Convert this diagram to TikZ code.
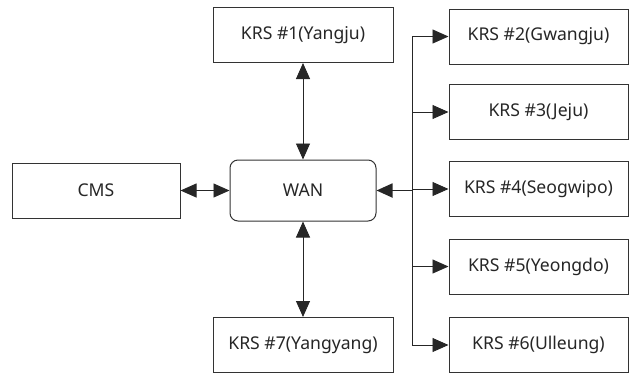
\documentclass[tikz,border=0pt]{standalone}
\usepackage{fontspec}
\setmainfont{Noto Sans}
\usetikzlibrary{arrows.meta}

\begin{document}
\begin{tikzpicture}[x=1pt,y=-1pt,
    box/.style={draw=black!80,line width=1pt,minimum width=180pt,minimum height=55pt,
      font=\fontsize{17.6}{21}\selectfont,text=black!85},
    tip/.tip={Triangle[length=16pt 0 0,width=14pt 0 0]},
    link/.style={tip-tip,line width=0.9pt,draw=black!85},
    feed/.style={-tip,line width=0.9pt,draw=black!85}]
  \useasboundingbox (0,0) rectangle (630,373);
  % stations around the network
  \node[box] (krs1) at (303,35) {KRS \#1(Yangju)};
  \node[box] (krs7) at (303,345) {KRS \#7(Yangyang)};
  \node[box,minimum width=168pt] (cms) at (96,190.5) {CMS};
  \node[box,minimum width=146pt,minimum height=61pt,rounded corners=8pt] (wan) at (303,190.5) {WAN};
  \node[box,minimum width=179pt] (krs2) at (538.5,36.5) {KRS \#2(Gwangju)};
  \node[box,minimum width=179pt] (krs3) at (538.5,112) {KRS \#3(Jeju)};
  \node[box,minimum width=179pt] (krs4) at (538.5,189) {KRS \#4(Seogwipo)};
  \node[box,minimum width=179pt] (krs5) at (538.5,266.5) {KRS \#5(Yeongdo)};
  \node[box,minimum width=179pt] (krs6) at (538.5,345) {KRS \#6(Ulleung)};
  \coordinate (bus) at (412,190.5);
  % links
  \draw[link] (krs1) -- (wan);
  \draw[link] (wan) -- (krs7);
  \draw[link] (cms) -- (wan);
  \draw[tip-,line width=1.8pt,draw=black!85] (wan) -- (bus);
  \foreach \n in {2,...,6}
    \draw[feed] (bus) |- (krs\n);
\end{tikzpicture}
\end{document}
